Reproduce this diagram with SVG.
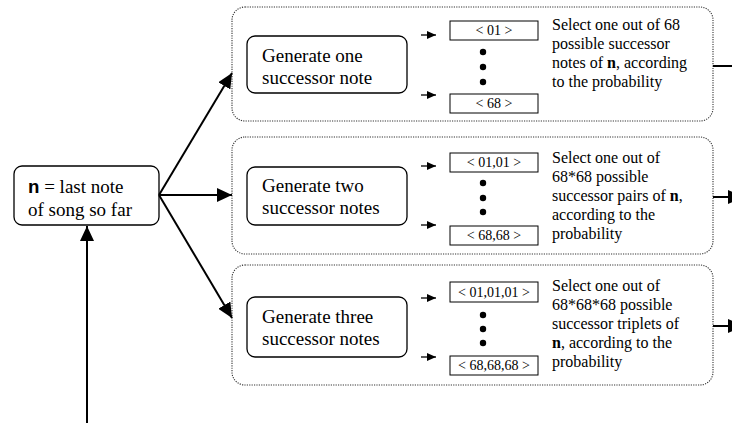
<svg xmlns="http://www.w3.org/2000/svg" width="732" height="423" viewBox="0 0 732 423">
<defs>
<marker id="big" markerUnits="userSpaceOnUse" markerWidth="16" markerHeight="14" refX="15" refY="7" orient="auto">
<path d="M0,0 L15,7 L0,14 z" fill="#000"/>
</marker>
<marker id="small" markerUnits="userSpaceOnUse" markerWidth="9" markerHeight="9" refX="9" refY="4.5" orient="auto">
<path d="M0,0.5 L9,4.5 L0,8.5 z" fill="#000"/>
</marker>
</defs>
<style>
.grp{fill:#fff;stroke:#333;stroke-width:1.1;stroke-dasharray:1.2,1.2}
.box{fill:#fff;stroke:#000;stroke-width:1.3}
.lst{fill:#fff;stroke:#000;stroke-width:1}
text{font-family:'Liberation Serif','Times New Roman','DejaVu Serif',serif;fill:#000}
.big{font-size:19px}
.mid{font-size:16px}
.sm{font-size:14px}
.c{stroke:#000;stroke-width:2;fill:none}
.s{stroke:#000;stroke-width:1.3;fill:none}
.mono{font-family:'Liberation Mono','Courier New',monospace;font-weight:bold}
</style>
<rect width="732" height="423" fill="#fff"/>

<g id="start">
<rect class="box" x="14" y="166" width="145" height="59" rx="8"/>
<text class="big" x="28" y="193"><tspan class="mono">n</tspan> = last note</text>
<text class="big" x="28" y="216">of song so far</text>
</g>

<g id="option1">
<rect class="grp" x="232" y="7" width="481" height="114" rx="13"/>
<g id="gen1">
<rect class="box" x="247" y="36" width="160" height="57" rx="8"/>
<text class="big" x="262" y="62">Generate one</text>
<text class="big" x="262" y="84">successor note</text>
</g>
<g id="list1">
<rect class="lst" x="450" y="21" width="88" height="19"/>
<text class="sm" x="494" y="35" text-anchor="middle">&lt; 01 &gt;</text>
<circle cx="483" cy="52" r="3.2"/><circle cx="483" cy="67" r="3.2"/><circle cx="483" cy="82" r="3.2"/>
<rect class="lst" x="450" y="94" width="88" height="19"/>
<text class="sm" x="494" y="108" text-anchor="middle">&lt; 68 &gt;</text>
</g>
<text class="mid" x="552" y="30">Select one out of 68</text>
<text class="mid" x="552" y="49">possible successor</text>
<text class="mid" x="552" y="68">notes of <tspan font-weight="bold">n</tspan>, according</text>
<text class="mid" x="552" y="87">to the probability</text>
</g>

<g id="option2">
<rect class="grp" x="232" y="137" width="481" height="117" rx="13"/>
<g id="gen2">
<rect class="box" x="247" y="167" width="160" height="58" rx="8"/>
<text class="big" x="262" y="192">Generate two</text>
<text class="big" x="262" y="214">successor notes</text>
</g>
<g id="list2">
<rect class="lst" x="450" y="153" width="88" height="19"/>
<text class="sm" x="494" y="167" text-anchor="middle">&lt; 01,01 &gt;</text>
<circle cx="483" cy="183" r="3.2"/><circle cx="483" cy="198" r="3.2"/><circle cx="483" cy="212" r="3.2"/>
<rect class="lst" x="450" y="226" width="88" height="19"/>
<text class="sm" x="494" y="240" text-anchor="middle">&lt; 68,68 &gt;</text>
</g>
<text class="mid" x="552" y="163">Select one out of</text>
<text class="mid" x="552" y="182">68*68 possible</text>
<text class="mid" x="552" y="201">successor pairs of <tspan font-weight="bold">n</tspan>,</text>
<text class="mid" x="552" y="220">according to the</text>
<text class="mid" x="552" y="239">probability</text>
</g>

<g id="option3">
<rect class="grp" x="232" y="265" width="481" height="120" rx="13"/>
<g id="gen3">
<rect class="box" x="247" y="297" width="160" height="60" rx="8"/>
<text class="big" x="262" y="323">Generate three</text>
<text class="big" x="262" y="345">successor notes</text>
</g>
<g id="list3">
<rect class="lst" x="450" y="282" width="88" height="20"/>
<text class="sm" x="494" y="297" text-anchor="middle">&lt; 01,01,01 &gt;</text>
<circle cx="483" cy="315" r="3.2"/><circle cx="483" cy="329" r="3.2"/><circle cx="483" cy="343" r="3.2"/>
<rect class="lst" x="450" y="356" width="88" height="19"/>
<text class="sm" x="494" y="370" text-anchor="middle">&lt; 68,68,68 &gt;</text>
</g>
<text class="mid" x="552" y="291">Select one out of</text>
<text class="mid" x="552" y="310">68*68*68 possible</text>
<text class="mid" x="552" y="329">successor triplets of</text>
<text class="mid" x="552" y="348"><tspan font-weight="bold">n</tspan>, according to the</text>
<text class="mid" x="552" y="367">probability</text>
</g>

<g id="connectors">
<line class="c" x1="87" y1="423" x2="87" y2="226" marker-end="url(#big)"/>
<line class="c" x1="159" y1="195" x2="232" y2="73" marker-end="url(#big)"/>
<line class="c" x1="159" y1="195" x2="232" y2="195" marker-end="url(#big)"/>
<line class="c" x1="159" y1="195" x2="232" y2="318" marker-end="url(#big)"/>
<line class="s" x1="421" y1="35" x2="436" y2="35" marker-end="url(#small)"/>
<line class="s" x1="421" y1="95" x2="436" y2="95" marker-end="url(#small)"/>
<line class="s" x1="421" y1="166" x2="436" y2="166" marker-end="url(#small)"/>
<line class="s" x1="421" y1="225" x2="436" y2="225" marker-end="url(#small)"/>
<line class="s" x1="421" y1="298" x2="436" y2="298" marker-end="url(#small)"/>
<line class="s" x1="421" y1="357" x2="436" y2="357" marker-end="url(#small)"/>
<line class="c" x1="713" y1="66" x2="732" y2="66"/>
<line class="c" x1="713" y1="197" x2="743" y2="197" marker-end="url(#big)"/>
<line class="c" x1="713" y1="326" x2="743" y2="326" marker-end="url(#big)"/>
</g>
</svg>
